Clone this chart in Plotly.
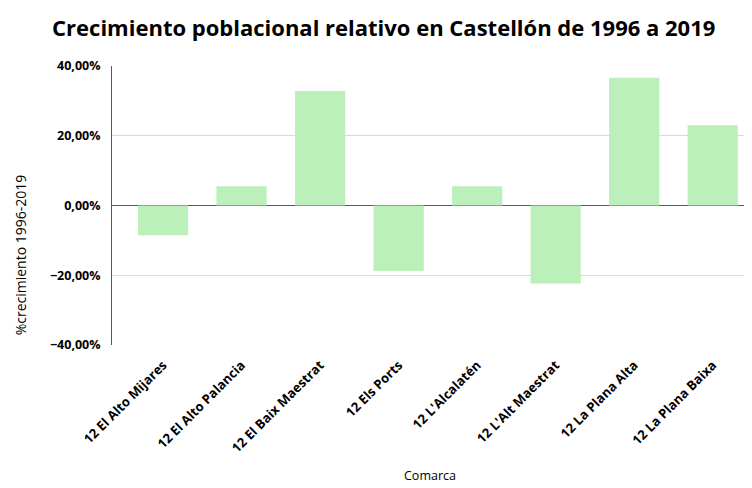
import plotly.graph_objs as go

comarcas = ['12 El Alto Mijares', '12 El Alto Palancia', '12 El Baix Maestrat', '12 Els Ports',
            "12 L'Alcalatén", "12 L'Alt Maestrat", '12 La Plana Alta', '12 La Plana Baixa']
crecimiento = [-0.085, 0.055, 0.328, -0.188, 0.055, -0.224, 0.366, 0.230]
y_ticks = [-0.4, -0.2, 0.0, 0.2, 0.4]

FONT = 'Open Sans'

trace = go.Bar(x=list(range(len(comarcas))), y=crecimiento, width=0.64,
               marker=dict(color='#bbf0bb', line=dict(width=0)),
               showlegend=False)

# the page body adds an 8px margin, so the figure is 8px smaller than the window
layout = go.Layout(
    width=744, height=480,
    margin=dict(l=104, r=0, t=58, b=143),
    paper_bgcolor='white', plot_bgcolor='white',
    separators=',.',
    font=dict(family=FONT, color='#000000'),
    title=dict(text='Crecimiento poblacional relativo en Castellón de 1996 a 2019',
               x=0.505, xanchor='center', y=0.958, yanchor='middle',
               font=dict(size=22, family=FONT, color='#000000', weight='bold')),
    xaxis=dict(
        range=[-0.65, 7.5], automargin=False,
        tickmode='array', tickvals=list(range(len(comarcas))),
        ticktext=comarcas,
        tickangle=-45, tickfont=dict(size=13, weight='bold'),
        showgrid=False, zeroline=False, showline=False, ticks='',
        ticklabelstandoff=9,
    ),
    yaxis=dict(
        range=[-0.4, 0.4], tickvals=y_ticks, tickformat='.2%', automargin=False,
        tickfont=dict(size=12.5, weight='bold'),
        showgrid=True, gridcolor='#d9d9d9', gridwidth=1,
        zeroline=True, zerolinecolor='#595959', zerolinewidth=1,
        showline=True, linecolor='#595959', linewidth=1,
        ticks='', ticklabelstandoff=8,
    ),
    annotations=[
        dict(text='Comarca', xref='paper', yref='paper', x=0.497, y=-0.507,
             xanchor='center', yanchor='bottom', showarrow=False,
             font=dict(size=12.5, family=FONT)),
        dict(text='%crecimiento 1996-2019', xref='paper', yref='paper', x=-0.143, y=0.323,
             xanchor='center', yanchor='middle', showarrow=False, textangle=-90,
             font=dict(size=14, family=FONT)),
    ],
)

fig = go.Figure(data=[trace], layout=layout)
fig.write_html("out.html")
